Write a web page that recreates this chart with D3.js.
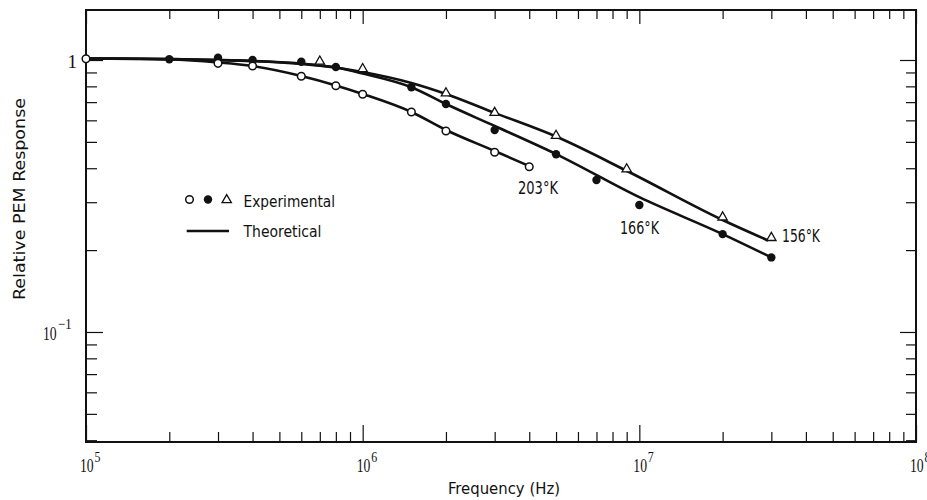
<!DOCTYPE html>
<html>
<head>
<meta charset="utf-8">
<script src="https://cdn.jsdelivr.net/npm/d3@7"></script>
<style>
  html, body { margin: 0; padding: 0; background: #fff; }
  svg { display: block; }
</style>
</head>
<body>
<svg id="chart" width="927" height="500"></svg>
<script>
// ---------------- DATA ----------------
const xMajorTicks = [1e5, 1e6, 1e7, 1e8];
const xMajorExponents = ["5", "6", "7", "8"];
const yMajorTicks = [1, 0.1];
const yMajorLabels = [{base: "1", exp: ""}, {base: "10", exp: "\u22121"}];

// Experimental points
const exp203Freq  = [1e5, 3e5, 4e5, 6e5, 8e5, 1e6, 1.5e6, 2e6, 3e6, 4e6];
const exp203Value = [1.01, 0.972, 0.95, 0.871, 0.804, 0.748, 0.644, 0.548, 0.458, 0.405];

const exp166Freq  = [2e5, 3e5, 4e5, 6e5, 8e5, 1.5e6, 2e6, 3e6, 5e6, 7e6, 1e7, 2e7, 3e7];
const exp166Value = [1.006, 1.02, 1.0, 0.985, 0.943, 0.794, 0.689, 0.553, 0.45, 0.362, 0.293, 0.229, 0.188];

const exp156Freq  = [7e5, 1e6, 2e6, 3e6, 5e6, 9e6, 2e7, 3e7];
const exp156Value = [0.988, 0.927, 0.755, 0.64, 0.527, 0.397, 0.264, 0.222];

// Theoretical curves
const th203Freq  = [1e5, 2e5, 3e5, 4e5, 6e5, 8e5, 1e6, 1.5e6, 2e6, 3e6, 4.05e6];
const th203Value = [1.013, 1.004, 0.979, 0.95, 0.873, 0.806, 0.75, 0.644, 0.553, 0.463, 0.405];

const th166Freq  = [1e5, 2e5, 3e5, 6e5, 8e5, 1e6, 1.5e6, 2e6, 3e6, 5e6, 1e7, 2e7, 3e7];
const th166Value = [1.013, 1.008, 1.0, 0.967, 0.938, 0.892, 0.794, 0.689, 0.572, 0.451, 0.313, 0.229, 0.188];

const th156Freq  = [1e5, 2e5, 3e5, 6e5, 1e6, 1.5e6, 2e6, 3e6, 5e6, 9.1e6, 2e7, 2.92e7];
const th156Value = [1.013, 1.008, 1.0, 0.971, 0.903, 0.823, 0.75, 0.639, 0.523, 0.389, 0.258, 0.217];

const curveLabels = ["203\u00B0K", "166\u00B0K", "156\u00B0K"];
const legendLabels = ["Experimental", "Theoretical"];
const xTitle = "Frequency (Hz)";
const yTitle = "Relative PEM Response";

// ---------------- LAYOUT ----------------
const svg = d3.select("#chart");
const L = 86, R = 916, T = 10, B = 442;
const x = d3.scaleLog().domain([1e5, 1e8]).range([L, R]);
const y = d3.scaleLog().domain([0.0394, 1.527]).range([B, T]);

const sans = "'Liberation Sans Narrow', 'DejaVu Sans Condensed', 'Liberation Sans', sans-serif";
const serif = "'Liberation Serif', 'DejaVu Serif', serif";

// minor ticks
const xMinor = [];
[1e5, 1e6, 1e7].forEach(d => { for (let k = 2; k <= 9; k++) xMinor.push(d * k); });
const yMinor = [];
[0.01, 0.1].forEach(d => { for (let k = 2; k <= 9; k++) { const v = d * k; if (v >= 0.04 && v < 1.5) yMinor.push(v); } });

function tickAxis(axisFn, scale, values, size, transform) {
  const g = svg.append("g").attr("transform", transform)
    .call(axisFn(scale).tickValues(values).tickSizeInner(size).tickSizeOuter(0).tickFormat(""));
  g.select(".domain").remove();
  g.selectAll(".tick line").attr("stroke", "#111").attr("stroke-width", 1.2);
  return g;
}
// bottom (ticks upward)
tickAxis(d3.axisBottom, x, xMinor, -10, `translate(0,${B})`);
tickAxis(d3.axisBottom, x, xMajorTicks, -17, `translate(0,${B})`);
// top (ticks downward)
tickAxis(d3.axisTop, x, xMinor, -9, `translate(0,${T})`);
tickAxis(d3.axisTop, x, xMajorTicks, -14, `translate(0,${T})`);
// left (ticks rightward)
tickAxis(d3.axisLeft, y, yMinor, -11, `translate(${L},0)`);
tickAxis(d3.axisLeft, y, yMajorTicks, -17, `translate(${L},0)`);
// right (ticks leftward)
tickAxis(d3.axisRight, y, yMinor, -10, `translate(${R},0)`);
tickAxis(d3.axisRight, y, yMajorTicks, -16, `translate(${R},0)`);

// frame
svg.append("rect").attr("x", L).attr("y", T).attr("width", R - L).attr("height", B - T)
  .attr("fill", "none").attr("stroke", "#111").attr("stroke-width", 2);

// x tick labels: "10" (horizontally condensed) + exponent
xMajorTicks.forEach((v, i) => {
  const cx = x(v);
  svg.append("text").attr("transform", `translate(${cx - 6},472) scale(0.76,1)`)
    .attr("font-family", serif).attr("font-size", 18)
    .attr("fill", "#111").text("10");
  svg.append("text").attr("transform", `translate(${cx + 8.5},462) scale(0.85,1)`)
    .attr("font-family", serif).attr("font-size", 14)
    .attr("fill", "#111").text(xMajorExponents[i]);
});

// y tick labels
svg.append("text").attr("x", 77).attr("y", 68).attr("text-anchor", "end")
  .attr("font-family", serif).attr("font-size", 19).attr("fill", "#111").text(yMajorLabels[0].base);
svg.append("text").attr("transform", "translate(43,340) scale(0.76,1)")
  .attr("font-family", serif).attr("font-size", 18)
  .attr("fill", "#111").text(yMajorLabels[1].base);
svg.append("text").attr("transform", "translate(58,329) scale(0.85,1)")
  .attr("font-family", serif).attr("font-size", 15)
  .attr("fill", "#111").text(yMajorLabels[1].exp);

// axis titles
svg.append("text").attr("x", 448).attr("y", 494)
  .attr("font-family", sans).attr("font-size", 15)
  .attr("textLength", 112).attr("lengthAdjust", "spacingAndGlyphs")
  .attr("fill", "#111").text(xTitle);
svg.append("text").attr("transform", "translate(25,300) rotate(-90)")
  .attr("font-family", sans).attr("font-size", 15)
  .attr("textLength", 202).attr("lengthAdjust", "spacingAndGlyphs")
  .attr("fill", "#111").text(yTitle);

// theoretical lines
const line = d3.line().x(d => x(d[0])).y(d => y(d[1])).curve(d3.curveMonotoneX);
[[th203Freq, th203Value], [th166Freq, th166Value], [th156Freq, th156Value]].forEach(([f, v]) => {
  svg.append("path").datum(f.map((ff, i) => [ff, v[i]]))
    .attr("d", line).attr("fill", "none").attr("stroke", "#111")
    .attr("stroke-width", 2.6).attr("stroke-linejoin", "round");
});

// markers
const tri = d3.symbol().type(d3.symbolTriangle).size(38);
function openCircle(cx, cy) {
  svg.append("circle").attr("cx", cx).attr("cy", cy).attr("r", 3.8)
    .attr("fill", "#fff").attr("stroke", "#111").attr("stroke-width", 1.5);
}
function filledCircle(cx, cy) {
  svg.append("circle").attr("cx", cx).attr("cy", cy).attr("r", 4.2).attr("fill", "#111");
}
function openTri(cx, cy) {
  svg.append("path").attr("d", tri).attr("transform", `translate(${cx},${cy})`)
    .attr("fill", "#fff").attr("stroke", "#111").attr("stroke-width", 1.3);
}
exp166Freq.forEach((f, i) => filledCircle(x(f), y(exp166Value[i])));
exp156Freq.forEach((f, i) => openTri(x(f), y(exp156Value[i])));
exp203Freq.forEach((f, i) => openCircle(x(f), y(exp203Value[i])));

// curve labels
const lblPos = [[518, 194, 40], [620, 234, 39], [782, 242, 38]];
curveLabels.forEach((t, i) => {
  svg.append("text").attr("x", lblPos[i][0]).attr("y", lblPos[i][1])
    .attr("font-family", sans).attr("font-size", 17)
    .attr("textLength", lblPos[i][2]).attr("lengthAdjust", "spacingAndGlyphs")
    .attr("fill", "#111").text(t);
});

// legend
openCircle(189.5, 199.5);
filledCircle(208, 199.5);
openTri(226.7, 200);
svg.append("text").attr("x", 243.5).attr("y", 207)
  .attr("font-family", sans).attr("font-size", 15)
  .attr("textLength", 91.5).attr("lengthAdjust", "spacingAndGlyphs")
  .attr("fill", "#111").text(legendLabels[0]);
svg.append("line").attr("x1", 186.7).attr("x2", 229).attr("y1", 231).attr("y2", 231)
  .attr("stroke", "#111").attr("stroke-width", 2.6);
svg.append("text").attr("x", 243.5).attr("y", 236.5)
  .attr("font-family", sans).attr("font-size", 15)
  .attr("textLength", 78).attr("lengthAdjust", "spacingAndGlyphs")
  .attr("fill", "#111").text(legendLabels[1]);
</script>
</body>
</html>
